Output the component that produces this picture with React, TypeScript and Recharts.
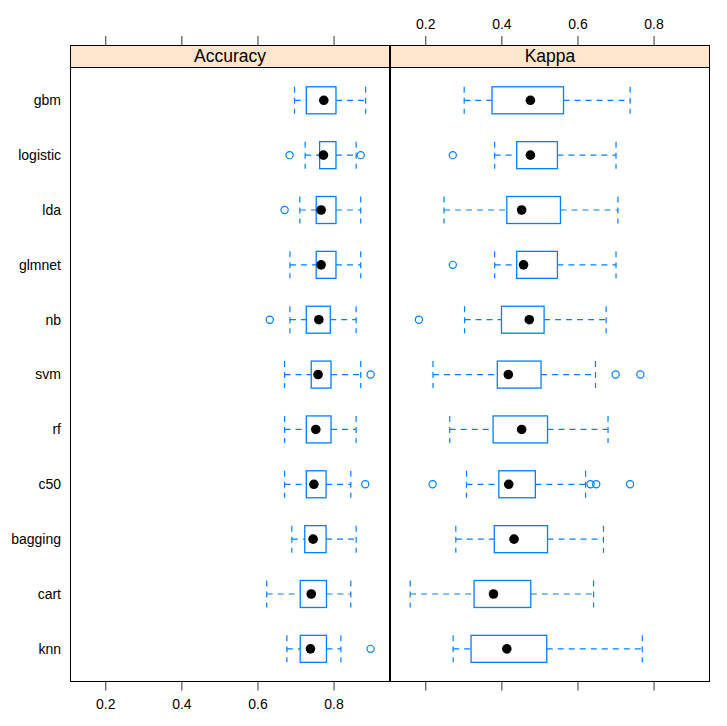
import React from 'react'
import { ComposedChart, Bar, XAxis, YAxis } from 'recharts'

const models = ['gbm', 'logistic', 'lda', 'glmnet', 'nb', 'svm', 'rf', 'c50', 'bagging', 'cart', 'knn']
const xTicks = [0.2, 0.4, 0.6, 0.8]

// Accuracy resamples (box stats)
const accLow = [0.696, 0.724, 0.710, 0.684, 0.684, 0.670, 0.670, 0.670, 0.689, 0.623, 0.676]
const accQ1 = [0.727, 0.762, 0.753, 0.753, 0.727, 0.740, 0.727, 0.727, 0.723, 0.711, 0.711]
const accMed = [0.773, 0.772, 0.766, 0.766, 0.760, 0.758, 0.752, 0.747, 0.745, 0.740, 0.738]
const accQ3 = [0.805, 0.805, 0.805, 0.805, 0.790, 0.792, 0.792, 0.779, 0.779, 0.780, 0.780]
const accHigh = [0.883, 0.858, 0.870, 0.870, 0.858, 0.870, 0.858, 0.844, 0.858, 0.844, 0.818]
const accOut = [[], [0.683, 0.870], [0.670], [], [0.631], [0.896], [], [0.882], [], [], [0.896]]

// Kappa
const kapLow = [0.301, 0.381, 0.248, 0.381, 0.302, 0.219, 0.263, 0.307, 0.279, 0.159, 0.272]
const kapQ1 = [0.374, 0.439, 0.413, 0.439, 0.399, 0.388, 0.377, 0.392, 0.380, 0.327, 0.319]
const kapMed = [0.475, 0.475, 0.452, 0.457, 0.472, 0.417, 0.452, 0.418, 0.432, 0.378, 0.413]
const kapQ3 = [0.562, 0.546, 0.554, 0.546, 0.511, 0.503, 0.520, 0.488, 0.520, 0.476, 0.518]
const kapHigh = [0.737, 0.700, 0.705, 0.700, 0.674, 0.646, 0.679, 0.620, 0.667, 0.641, 0.769]
const kapOut = [[], [0.271], [], [0.271], [0.182], [0.699, 0.764], [], [0.218, 0.633, 0.648, 0.737], [], [], []]

const BLUE = '#0080ff'
const FONT = '"Liberation Sans", Arial, Helvetica, sans-serif'
const DOMAIN: [number, number] = [0.106, 0.947]
const PAD = { top: 27.8, bottom: 5.5 }
const OUT_SLOTS = [0, 1, 2, 3]

function buildRows(low: number[], q1: number[], med: number[], q3: number[], high: number[], out: number[][]) {
  return models.map((name, i) => {
    const row: any = {
      name,
      lo: [low[i], q1[i]],
      box: [q1[i], q3[i]],
      hi: [q3[i], high[i]],
      med: [med[i], med[i]],
    }
    OUT_SLOTS.forEach((k) => {
      row['o' + k] = out[i][k] !== undefined ? [out[i][k], out[i][k]] : null
    })
    return row
  })
}

const LowWhisker = (p: any) => {
  const cy = p.y + p.height / 2
  return (
    <g>
      <line x1={p.x} y1={cy} x2={p.x + p.width} y2={cy} stroke={BLUE} strokeDasharray="6 5" strokeWidth={1.2} />
      <line x1={p.x} y1={p.y} x2={p.x} y2={p.y + p.height} stroke={BLUE} strokeDasharray="6 5" strokeWidth={1.2} />
    </g>
  )
}

const HighWhisker = (p: any) => {
  const cy = p.y + p.height / 2
  const x2 = p.x + p.width
  return (
    <g>
      <line x1={p.x} y1={cy} x2={x2} y2={cy} stroke={BLUE} strokeDasharray="6 5" strokeWidth={1.2} />
      <line x1={x2} y1={p.y} x2={x2} y2={p.y + p.height} stroke={BLUE} strokeDasharray="6 5" strokeWidth={1.2} />
    </g>
  )
}

const BoxShape = (p: any) => (
  <rect x={p.x} y={p.y} width={p.width} height={p.height} fill="none" stroke={BLUE} strokeWidth={1.3} />
)

const MedianDot = (p: any) => <circle cx={p.x + p.width / 2} cy={p.y + p.height / 2} r={4.8} fill="#000" />

const OutlierDot = (p: any) => (
  <circle cx={p.x + p.width / 2} cy={p.y + p.height / 2} r={3.6} fill="none" stroke={BLUE} strokeWidth={1.2} />
)

const makeTick = (labelled: boolean, top: boolean) => (props: any) => {
  const { x, payload } = props
  const y0 = top ? 45 : 681.7
  const y1 = top ? 36 : 690.5
  return (
    <g>
      <line x1={x} y1={y0} x2={x} y2={y1} stroke="#333" strokeWidth={1} />
      {labelled && (
        <text x={x} y={top ? 29 : 709} textAnchor="middle" fontSize={14} fontFamily={FONT} fill="#000">
          {payload.value}
        </text>
      )}
    </g>
  )
}

interface PanelProps {
  rows: any[]
  left: number
  width: number
  marginLeft: number
  marginRight: number
  showNames: boolean
  labelTop: boolean
}

function Panel({ rows, left, width, marginLeft, marginRight, showNames, labelTop }: PanelProps) {
  const hiddenAxis = (id: string) => (
    <YAxis key={id} yAxisId={id} type="category" dataKey="name" hide padding={PAD} />
  )
  return (
    <div style={{ position: 'absolute', left, top: 0 }}>
      <ComposedChart
        width={width}
        height={726}
        data={rows}
        layout="vertical"
        margin={{ top: 9, bottom: 8.3, left: marginLeft, right: marginRight }}
        barSize={27}
      >
        <XAxis
          xAxisId="bottom"
          type="number"
          orientation="bottom"
          domain={DOMAIN}
          ticks={xTicks}
          allowDataOverflow
          axisLine={false}
          tickLine={false}
          height={36}
          tick={makeTick(!labelTop, false)}
        />
        <XAxis
          xAxisId="top"
          type="number"
          orientation="top"
          domain={DOMAIN}
          ticks={xTicks}
          allowDataOverflow
          axisLine={false}
          tickLine={false}
          height={36}
          tick={makeTick(labelTop, true)}
        />
        <YAxis
          yAxisId="box"
          type="category"
          dataKey="name"
          hide={!showNames}
          width={60}
          padding={PAD}
          axisLine={false}
          tickLine={false}
          tickSize={0}
          tickMargin={9}
          tick={{ fontSize: 14, fontFamily: FONT, fill: '#000' }}
        />
        {hiddenAxis('lo')}
        {hiddenAxis('hi')}
        {hiddenAxis('med')}
        {OUT_SLOTS.map((k) => hiddenAxis('o' + k))}
        <Bar xAxisId="bottom" yAxisId="lo" dataKey="lo" shape={LowWhisker} isAnimationActive={false} />
        <Bar xAxisId="bottom" yAxisId="hi" dataKey="hi" shape={HighWhisker} isAnimationActive={false} />
        <Bar xAxisId="bottom" yAxisId="box" dataKey="box" shape={BoxShape} isAnimationActive={false} />
        {OUT_SLOTS.map((k) => (
          <Bar key={k} xAxisId="bottom" yAxisId={'o' + k} dataKey={'o' + k} shape={OutlierDot} isAnimationActive={false} />
        ))}
        <Bar xAxisId="bottom" yAxisId="med" dataKey="med" shape={MedianDot} isAnimationActive={false} />
      </ComposedChart>
    </div>
  )
}

const accRows = buildRows(accLow, accQ1, accMed, accQ3, accHigh, accOut)
const kapRows = buildRows(kapLow, kapQ1, kapMed, kapQ3, kapHigh, kapOut)

const frame = (left: number, label: string) => (
  <>
    <div
      style={{
        position: 'absolute',
        left,
        top: 45,
        width: 320,
        height: 636.7,
        border: '1px solid #000',
        boxSizing: 'border-box',
      }}
    />
    <div
      style={{
        position: 'absolute',
        left,
        top: 45,
        width: 320,
        height: 23,
        background: '#ffe5cc',
        border: '1px solid #000',
        boxSizing: 'border-box',
        textAlign: 'center',
        fontFamily: FONT,
        fontSize: 17.5,
        lineHeight: '21px',
        color: '#000',
      }}
    >
      {label}
    </div>
  </>
)

export default function App() {
  return (
    <div style={{ position: 'absolute', left: 0, top: 0, width: 727, height: 726, background: '#fff', overflow: 'hidden' }}>
      {frame(70, 'Accuracy')}
      {frame(390, 'Kappa')}
      <Panel rows={accRows} left={0} width={400} marginLeft={10} marginRight={10} showNames labelTop={false} />
      <Panel rows={kapRows} left={380} width={347} marginLeft={10} marginRight={17} showNames={false} labelTop />
    </div>
  )
}
